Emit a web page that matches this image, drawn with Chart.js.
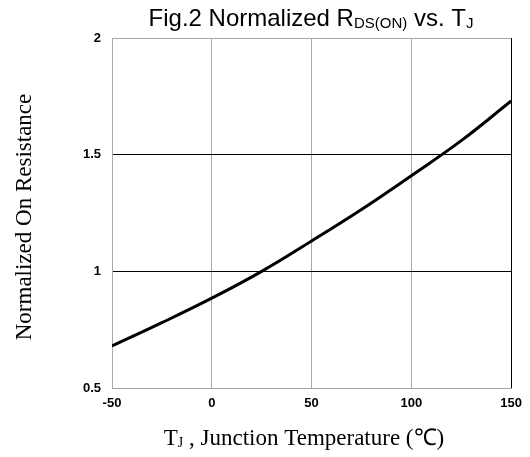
<!DOCTYPE html>
<html lang="en">
<head>
    <meta charset="UTF-8">
    <title>Fig.2 Normalized RDS(ON) vs. TJ</title>
    <script src="https://cdn.jsdelivr.net/npm/chart.js"></script>
    <style>
        body { margin: 0; background: #fff; }
        #wrap { width: 530px; height: 457px; }
    </style>
</head>
<body>
    <div id="wrap"><canvas id="rdsChart" width="530" height="457"></canvas></div>

    <script>
        // junction temperature (°C) and normalized on resistance
        const tempC = [-50, -25, 0, 25, 50, 75, 100, 125, 150];
        const rdsNorm = [0.68, 0.78, 0.885, 1.0, 1.13, 1.265, 1.41, 1.56, 1.73];
        const xTicks = [-50, 0, 50, 100, 150];
        const yTicks = [0.5, 1, 1.5, 2];

        // draws a string made of [text, isSub] pieces, centred on cx
        function drawPieces(ctx, pieces, cx, y, big, small, family) {
            let total = 0;
            pieces.forEach(p => {
                ctx.font = (p[1] ? small : big) + 'px ' + family;
                total += ctx.measureText(p[0]).width;
            });
            let x = cx - total / 2;
            pieces.forEach(p => {
                ctx.font = (p[1] ? small : big) + 'px ' + family;
                ctx.fillText(p[0], x, p[1] ? y + 2 : y);
                x += ctx.measureText(p[0]).width;
            });
        }

        const labelsPlugin = {
            id: 'labels',
            afterDraw(chart) {
                const ctx = chart.ctx;
                ctx.save();
                ctx.fillStyle = '#000';
                ctx.textBaseline = 'alphabetic';
                ctx.textAlign = 'left';
                drawPieces(ctx, [['Fig.2 Normalized R', false], ['DS(ON)', true], [' vs. T', false], ['J', true]],
                    311, 26, 24, 15, '"Liberation Sans", Arial, sans-serif');
                drawPieces(ctx, [['T', false], ['J', true], [' , Junction Temperature (\u2103)', false]],
                    304, 445, 23, 14, '"Liberation Serif", "Times New Roman", serif');

                ctx.translate(31, 217);
                ctx.rotate(-Math.PI / 2);
                ctx.textAlign = 'center';
                ctx.font = '23px "Liberation Serif", "Times New Roman", serif';
                ctx.fillText('Normalized On Resistance', 0, 0);
                ctx.restore();
            }
        };

        const ctx = document.getElementById('rdsChart').getContext('2d');
        new Chart(ctx, {
            type: 'line',
            data: {
                datasets: [{
                    data: tempC.map((t, i) => ({ x: t, y: rdsNorm[i] })),
                    borderColor: '#000',
                    borderWidth: 3,
                    pointRadius: 0,
                    tension: 0.4,
                    fill: false
                }]
            },
            options: {
                responsive: false,
                animation: false,
                layout: { padding: { top: 38, right: 17, left: 0, bottom: 0 } },
                plugins: {
                    legend: { display: false },
                    tooltip: { enabled: false }
                },
                scales: {
                    x: {
                        type: 'linear',
                        min: -50,
                        max: 150,
                        afterBuildTicks: s => { s.ticks = xTicks.map(v => ({ value: v })); },
                        afterFit: s => { s.height = 69; },
                        ticks: {
                            color: '#000',
                            padding: 8,
                            font: { family: '"Liberation Sans", Arial, sans-serif', size: 13, weight: 'bold' }
                        },
                        grid: {
                            drawTicks: false,
                            lineWidth: 1,
                            color: c => c.tick && c.tick.value === 150 ? '#000' : '#a8a8a8'
                        },
                        border: { color: '#a8a8a8', width: 1 }
                    },
                    y: {
                        min: 0.5,
                        max: 2,
                        afterBuildTicks: s => { s.ticks = yTicks.map(v => ({ value: v })); },
                        afterFit: s => { s.width = 112; },
                        ticks: {
                            color: '#000',
                            padding: 11,
                            callback: v => String(v),
                            font: { family: '"Liberation Sans", Arial, sans-serif', size: 13, weight: 'bold' }
                        },
                        grid: {
                            drawTicks: false,
                            lineWidth: 1,
                            color: c => c.tick && (c.tick.value === 2 || c.tick.value === 0.5) ? '#a8a8a8' : '#000'
                        },
                        border: { color: '#a8a8a8', width: 1 }
                    }
                }
            },
            plugins: [labelsPlugin]
        });
    </script>
</body>
</html>
